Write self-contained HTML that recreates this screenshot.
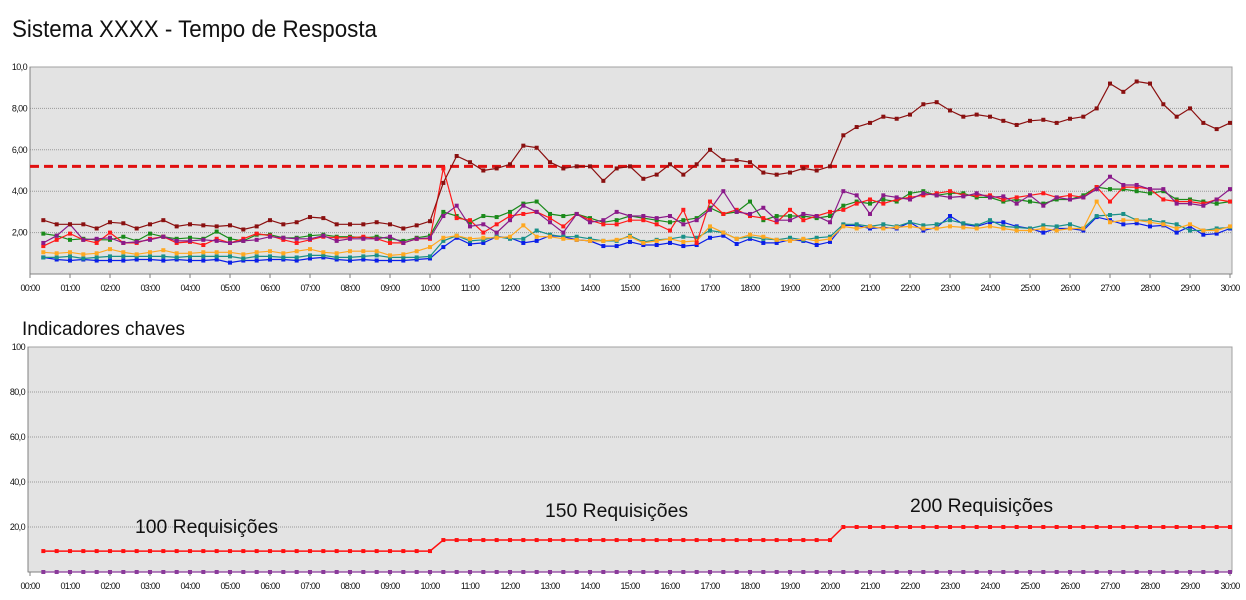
<!DOCTYPE html>
<html><head><meta charset="utf-8">
<style>
html,body{margin:0;padding:0;background:#fff;}
svg{display:block;font-family:"Liberation Sans",sans-serif;}
</style></head>
<body>
<svg id="chart" width="1246" height="600" viewBox="0 0 1246 600" xmlns="http://www.w3.org/2000/svg">
<text x="12" y="37" font-size="24" textLength="365" lengthAdjust="spacingAndGlyphs" fill="#111">Sistema  XXXX - Tempo de Resposta</text>
<text x="22" y="335" font-size="19" textLength="163" lengthAdjust="spacingAndGlyphs" fill="#111">Indicadores chaves</text>
<g id="top"></g>
<g id="bottom"></g>
</svg>
<script>
const hourLabels = ["00:00","01:00","02:00","03:00","04:00","05:00","06:00","07:00","08:00","09:00","10:00","11:00","12:00","13:00","14:00","15:00","16:00","17:00","18:00","19:00","20:00","21:00","22:00","23:00","24:00","25:00","26:00","27:00","28:00","29:00","30:00"];
const topTicks = ["2,00","4,00","6,00","8,00","10,0"];
const topTickValues = [2,4,6,8,10];
const bottomTicks = ["20,0","40,0","60,0","80,0","100"];
const bottomTickValues = [20,40,60,80,100];
const threshold = 5.2;
const seriesMaroon = [2.6,2.4,2.4,2.4,2.2,2.5,2.45,2.2,2.4,2.6,2.3,2.4,2.35,2.3,2.35,2.15,2.3,2.6,2.4,2.5,2.75,2.7,2.4,2.4,2.4,2.5,2.4,2.2,2.35,2.55,
4.4,5.7,5.4,5.0,5.1,5.3,6.2,6.1,5.4,5.1,5.2,5.2,4.5,5.1,5.2,4.6,4.8,5.3,4.8,5.3,6.0,5.5,5.5,5.4,4.9,4.8,4.9,5.1,5.0,5.2,
6.7,7.1,7.3,7.6,7.5,7.7,8.2,8.3,7.9,7.6,7.7,7.6,7.4,7.2,7.4,7.45,7.3,7.5,7.6,8.0,9.2,8.8,9.3,9.2,8.2,7.6,8.0,7.3,7.0,7.3];
const seriesRed = [1.35,1.65,1.95,1.65,1.5,2.0,1.5,1.5,1.7,1.8,1.5,1.55,1.4,1.7,1.5,1.7,1.95,1.85,1.65,1.5,1.65,1.8,1.75,1.75,1.8,1.7,1.5,1.5,1.7,1.7,
5.1,2.7,2.6,2.0,2.4,2.8,2.9,3.0,2.7,2.3,2.9,2.6,2.4,2.4,2.6,2.6,2.4,2.1,3.1,1.5,3.5,2.9,3.1,2.8,2.7,2.5,3.1,2.6,2.8,3.0,
3.1,3.4,3.6,3.4,3.6,3.7,3.8,3.9,4.0,3.8,3.8,3.8,3.6,3.7,3.8,3.9,3.7,3.8,3.7,4.2,3.5,4.2,4.2,4.1,3.6,3.5,3.5,3.4,3.6,3.5];
const seriesGreen = [1.95,1.85,1.65,1.7,1.65,1.65,1.8,1.6,1.95,1.8,1.7,1.75,1.7,2.05,1.7,1.6,1.9,1.9,1.75,1.75,1.85,1.9,1.8,1.8,1.75,1.8,1.7,1.6,1.75,1.85,
3.0,2.8,2.5,2.8,2.75,3.0,3.4,3.5,2.9,2.8,2.9,2.7,2.5,2.6,2.8,2.7,2.6,2.5,2.6,2.7,3.2,2.9,3.0,3.5,2.6,2.8,2.8,2.8,2.7,2.8,
3.3,3.5,3.4,3.6,3.5,3.9,4.0,3.8,3.9,3.9,3.7,3.7,3.5,3.6,3.5,3.4,3.6,3.6,3.8,4.2,4.1,4.1,4.0,3.9,4.0,3.6,3.6,3.5,3.4,3.5];
const seriesPurple = [1.5,1.85,2.4,1.65,1.7,1.75,1.5,1.55,1.65,1.8,1.6,1.6,1.65,1.6,1.5,1.6,1.65,1.8,1.75,1.7,1.7,1.85,1.6,1.7,1.7,1.7,1.8,1.5,1.7,1.75,
2.8,3.3,2.3,2.4,2.0,2.6,3.3,3.0,2.5,2.0,2.9,2.5,2.6,3.0,2.8,2.8,2.7,2.8,2.4,2.6,3.1,4.0,3.0,2.9,3.2,2.6,2.6,2.9,2.8,2.5,
4.0,3.8,2.9,3.8,3.7,3.6,3.9,3.8,3.7,3.75,3.9,3.7,3.75,3.4,3.8,3.3,3.7,3.6,3.7,4.1,4.7,4.3,4.3,4.1,4.1,3.4,3.4,3.3,3.6,4.1];
const seriesOrange = [1.05,1.0,1.05,0.95,1.0,1.2,1.05,0.95,1.05,1.15,1.0,1.0,1.05,1.05,1.05,0.95,1.05,1.1,1.0,1.1,1.2,1.05,1.0,1.1,1.1,1.1,0.9,0.95,1.1,1.3,
1.75,1.85,1.7,1.75,1.75,1.8,2.35,1.8,1.8,1.7,1.65,1.6,1.6,1.65,1.8,1.5,1.6,1.7,1.55,1.6,2.3,2.0,1.7,1.9,1.8,1.65,1.6,1.7,1.6,1.7,
2.3,2.2,2.3,2.2,2.25,2.3,2.2,2.2,2.3,2.25,2.2,2.3,2.2,2.1,2.1,2.2,2.1,2.2,2.2,3.5,2.5,2.6,2.6,2.5,2.4,2.2,2.4,2.1,2.1,2.3];
const seriesTeal = [0.8,0.8,0.85,0.75,0.8,0.85,0.85,0.85,0.85,0.85,0.8,0.85,0.85,0.85,0.85,0.75,0.85,0.85,0.8,0.8,0.9,0.9,0.8,0.8,0.85,0.9,0.8,0.8,0.8,0.85,
1.6,1.85,1.6,1.65,1.8,1.7,1.7,2.1,1.9,1.8,1.8,1.7,1.6,1.6,1.85,1.55,1.65,1.7,1.8,1.75,2.1,2.0,1.7,1.8,1.7,1.65,1.75,1.65,1.75,1.8,
2.4,2.4,2.3,2.4,2.3,2.5,2.35,2.4,2.6,2.45,2.35,2.6,2.3,2.25,2.2,2.35,2.3,2.4,2.2,2.8,2.85,2.9,2.6,2.6,2.5,2.4,2.1,2.1,2.2,2.25];
const seriesBlue = [0.8,0.7,0.65,0.7,0.65,0.65,0.65,0.7,0.7,0.65,0.7,0.65,0.65,0.7,0.55,0.65,0.65,0.7,0.7,0.65,0.75,0.8,0.7,0.65,0.7,0.65,0.65,0.65,0.7,0.75,
1.3,1.75,1.45,1.5,1.8,1.75,1.5,1.6,1.85,1.8,1.65,1.6,1.35,1.35,1.55,1.4,1.4,1.5,1.35,1.4,1.75,1.85,1.45,1.7,1.5,1.5,1.65,1.6,1.4,1.55,
2.35,2.35,2.2,2.25,2.2,2.5,2.1,2.25,2.8,2.4,2.3,2.5,2.5,2.3,2.2,2.0,2.2,2.2,2.1,2.75,2.6,2.4,2.45,2.3,2.35,2.0,2.3,1.9,1.95,2.2];
const requestLevels = [9.3,14.2,20];
const requestLabels = ["100 Requisições","150 Requisições","200 Requisições"];
const zeroSeries = 0;

const NS="http://www.w3.org/2000/svg";
function mk(tag, attrs, parent){const e=document.createElementNS(NS,tag);for(const k in attrs)e.setAttribute(k,attrs[k]);parent.appendChild(e);return e;}
const X0=30, PXH=40;
function xAt(i){return X0 + (i+1)*PXH/3;}
function xHour(h){return X0 + h*PXH;}

function frame(g, top, bottom, left, ticks, tickVals, maxV, name){
  const bg=mk('rect',{x:left,y:top,width:1232-left,height:bottom-top,fill:'#e3e3e3',stroke:'#a0a0a0','stroke-width':1},g);
  
  
  const yf=v=>bottom-(v/maxV)*(bottom-top);
  ticks.forEach((t,i)=>{
    const y=yf(tickVals[i]);
    if(tickVals[i]<maxV){
      const gl=mk('line',{x1:left,x2:1232,y1:y,y2:y,stroke:'#9a9a9a','stroke-dasharray':'1,1'},g);
      
      
    }
    const tx=mk('text',{x:left-3,y:y+3,'font-size':9,'text-anchor':'end',fill:'#111','letter-spacing':'-0.6'},g);
    tx.textContent=t;
    
    
  });
  mk('line',{x1:left,x2:left,y1:top,y2:bottom,stroke:'#808080'},g);
  mk('line',{x1:left,x2:1232,y1:bottom,y2:bottom,stroke:'#808080'},g);
  hourLabels.forEach((h,i)=>{
    const x=xHour(i);
    mk('line',{x1:x,x2:x,y1:bottom,y2:bottom+4,stroke:'#808080'},g);
    const tx=mk('text',{x:x,y:bottom+17,'font-size':9,'text-anchor':'middle',fill:'#111','letter-spacing':'-0.7'},g);
    tx.textContent=h;
    
    
  });
  return yf;
}

function drawSeries(g, data, yf, color, name, sw){
  const pts=data.map((v,i)=>xAt(i).toFixed(1)+','+yf(v).toFixed(1)).join(' ');
  const pl=mk('polyline',{points:pts,fill:'none',stroke:color,'stroke-width':sw||1.2},g);
  
  
  data.forEach((v,i)=>{
    const m=mk('rect',{x:xAt(i)-2,y:yf(v)-2,width:4,height:4,fill:color},g);
    
    
  });
}

// top chart
const gt=document.getElementById('top');
const yT=frame(gt,67,274,30,topTicks,topTickValues,10,'response-chart');
const th=mk('line',{x1:30,x2:1232,y1:yT(threshold),y2:yT(threshold),stroke:'#e01010','stroke-width':3,'stroke-dasharray':'9,5'},gt);


drawSeries(gt,seriesBlue,yT,'#0a1ee8','series-blue');
drawSeries(gt,seriesTeal,yT,'#1a9088','series-teal');
drawSeries(gt,seriesOrange,yT,'#ffa820','series-orange');
drawSeries(gt,seriesGreen,yT,'#1a8a1a','series-green');
drawSeries(gt,seriesRed,yT,'#ff1a1a','series-red');
drawSeries(gt,seriesPurple,yT,'#8a1a8a','series-purple');
drawSeries(gt,seriesMaroon,yT,'#8a1010','series-maroon');

// bottom chart
const gb=document.getElementById('bottom');
const yB=frame(gb,347,572,28,bottomTicks,bottomTickValues,100,'indicators-chart');
const reqData=[];
for(let i=0;i<90;i++) reqData.push(requestLevels[Math.min(2,Math.floor(i/30))]);
const zeroData=[];
for(let i=0;i<90;i++) zeroData.push(zeroSeries);
drawSeries(gb,zeroData,yB,'#8a3a9a','series-zero',0);
drawSeries(gb,reqData,yB,'#ff1010','series-requests',1.5);
const labelPos=[[135,533],[545,517],[910,512]];
requestLabels.forEach((t,i)=>{
  const tx=mk('text',{x:labelPos[i][0],y:labelPos[i][1],'font-size':19,textLength:143,lengthAdjust:'spacingAndGlyphs',fill:'#111'},gb);
  tx.textContent=t;
  
  
});
</script>
</body></html>
